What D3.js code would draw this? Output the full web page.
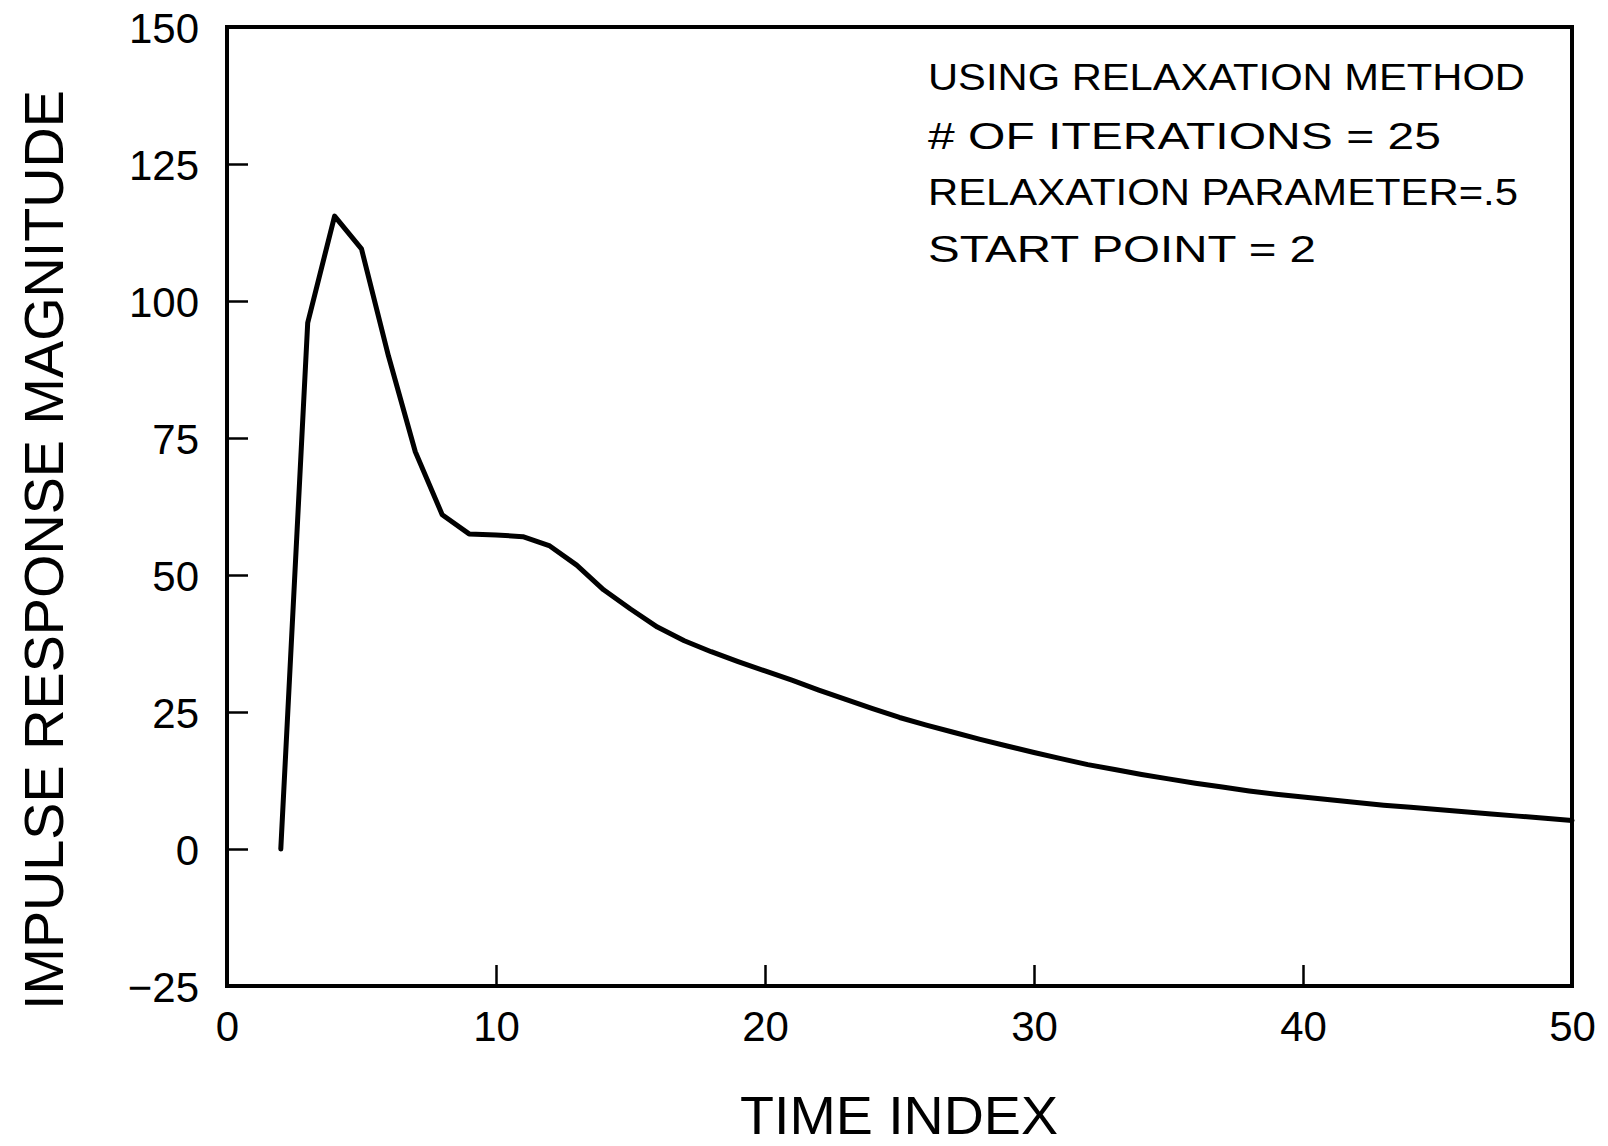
<!DOCTYPE html>
<html>
<head>
<meta charset="utf-8">
<script src="https://cdn.jsdelivr.net/npm/d3@7"></script>
<style>
  html, body { margin: 0; padding: 0; background: #fff; }
  svg { display: block; }
  text { font-family: "Liberation Sans", Arial, sans-serif; fill: #000; }
</style>
</head>
<body>
<svg id="chart" width="1608" height="1146"></svg>
<script>
// Impulse response computed with the relaxation method
const timeIndex = [2, 3, 4, 5, 6, 7, 8, 9, 10, 11, 12, 13, 14, 15, 16, 17, 18, 19, 20,
  21, 22, 23, 24, 25, 26, 27, 28, 29, 30, 31, 32, 33, 34, 35, 36, 37, 38, 39, 40,
  41, 42, 43, 44, 45, 46, 47, 48, 49, 50];
const magnitude = [0, 96, 115.5, 109.5, 90, 72.5, 61, 57.5, 57.3, 57, 55.3, 51.8, 47.3, 43.8, 40.5, 38, 36, 34.2, 32.5,
  30.8, 29.0, 27.3, 25.6, 24.0, 22.6, 21.3, 20.0, 18.8, 17.6, 16.5, 15.4, 14.5, 13.6, 12.8, 12.0, 11.3, 10.6, 10.0, 9.5,
  9.0, 8.5, 8.0, 7.6, 7.2, 6.8, 6.4, 6.0, 5.6, 5.2];

const xTicks = [0, 10, 20, 30, 40, 50];
const yTicks = [-25, 0, 25, 50, 75, 100, 125, 150];

const xTitle = "TIME INDEX";
const yTitle = "IMPULSE RESPONSE MAGNITUDE";
const notes = [
  "USING RELAXATION METHOD",
  "# OF ITERATIONS = 25",
  "RELAXATION PARAMETER=.5",
  "START POINT = 2"
];
const noteWidths = [597, 513, 590, 388];

const svg = d3.select("#chart");
const plot = { left: 227, right: 1572, top: 27, bottom: 986 };

const x = d3.scaleLinear().domain([0, 50]).range([plot.left, plot.right]);
const y = d3.scaleLinear().domain([-25, 150]).range([plot.bottom, plot.top]);

// inward ticks on the left and bottom edges
const yAxis = d3.axisLeft(y).tickValues(yTicks).tickSizeInner(-21).tickSizeOuter(0).tickPadding(28);
const xAxis = d3.axisBottom(x).tickValues(xTicks).tickSizeInner(-21).tickSizeOuter(0).tickPadding(25);

const gy = svg.append("g").attr("transform", `translate(${plot.left},0)`).call(yAxis);
const gx = svg.append("g").attr("transform", `translate(0,${plot.bottom})`).call(xAxis);

[gy, gx].forEach(g => {
  g.select(".domain").remove();
  g.selectAll(".tick line").attr("stroke", "#000").attr("stroke-width", 2.5);
  g.selectAll(".tick text")
    .attr("font-family", "'Liberation Sans', Arial, sans-serif")
    .attr("font-size", 42)
    .attr("fill", "#000");
});
gy.selectAll(".tick text").attr("dy", "0.36em");

// frame
svg.append("rect")
  .attr("x", plot.left).attr("y", plot.top)
  .attr("width", plot.right - plot.left).attr("height", plot.bottom - plot.top)
  .attr("fill", "none").attr("stroke", "#000").attr("stroke-width", 4);

// response curve
const line = d3.line()
  .x((d, i) => x(timeIndex[i]))
  .y(d => y(d));

svg.append("path")
  .datum(magnitude)
  .attr("d", line)
  .attr("fill", "none")
  .attr("stroke", "#000")
  .attr("stroke-width", 5)
  .attr("stroke-linejoin", "round")
  .attr("stroke-linecap", "round");

// annotation block
const noteBase = [90, 149, 205, 262];
notes.forEach((t, i) => {
  svg.append("text")
    .attr("x", 928).attr("y", noteBase[i])
    .attr("font-size", 37)
    .attr("textLength", noteWidths[i])
    .attr("lengthAdjust", "spacingAndGlyphs")
    .text(t);
});

// axis titles
svg.append("text")
  .attr("x", 899).attr("y", 1134)
  .attr("text-anchor", "middle")
  .attr("font-size", 54)
  .attr("textLength", 318)
  .attr("lengthAdjust", "spacingAndGlyphs")
  .text(xTitle);

svg.append("text")
  .attr("transform", "translate(63,550) rotate(-90)")
  .attr("text-anchor", "middle")
  .attr("font-size", 56)
  .attr("textLength", 920)
  .attr("lengthAdjust", "spacingAndGlyphs")
  .text(yTitle);
</script>
</body>
</html>
